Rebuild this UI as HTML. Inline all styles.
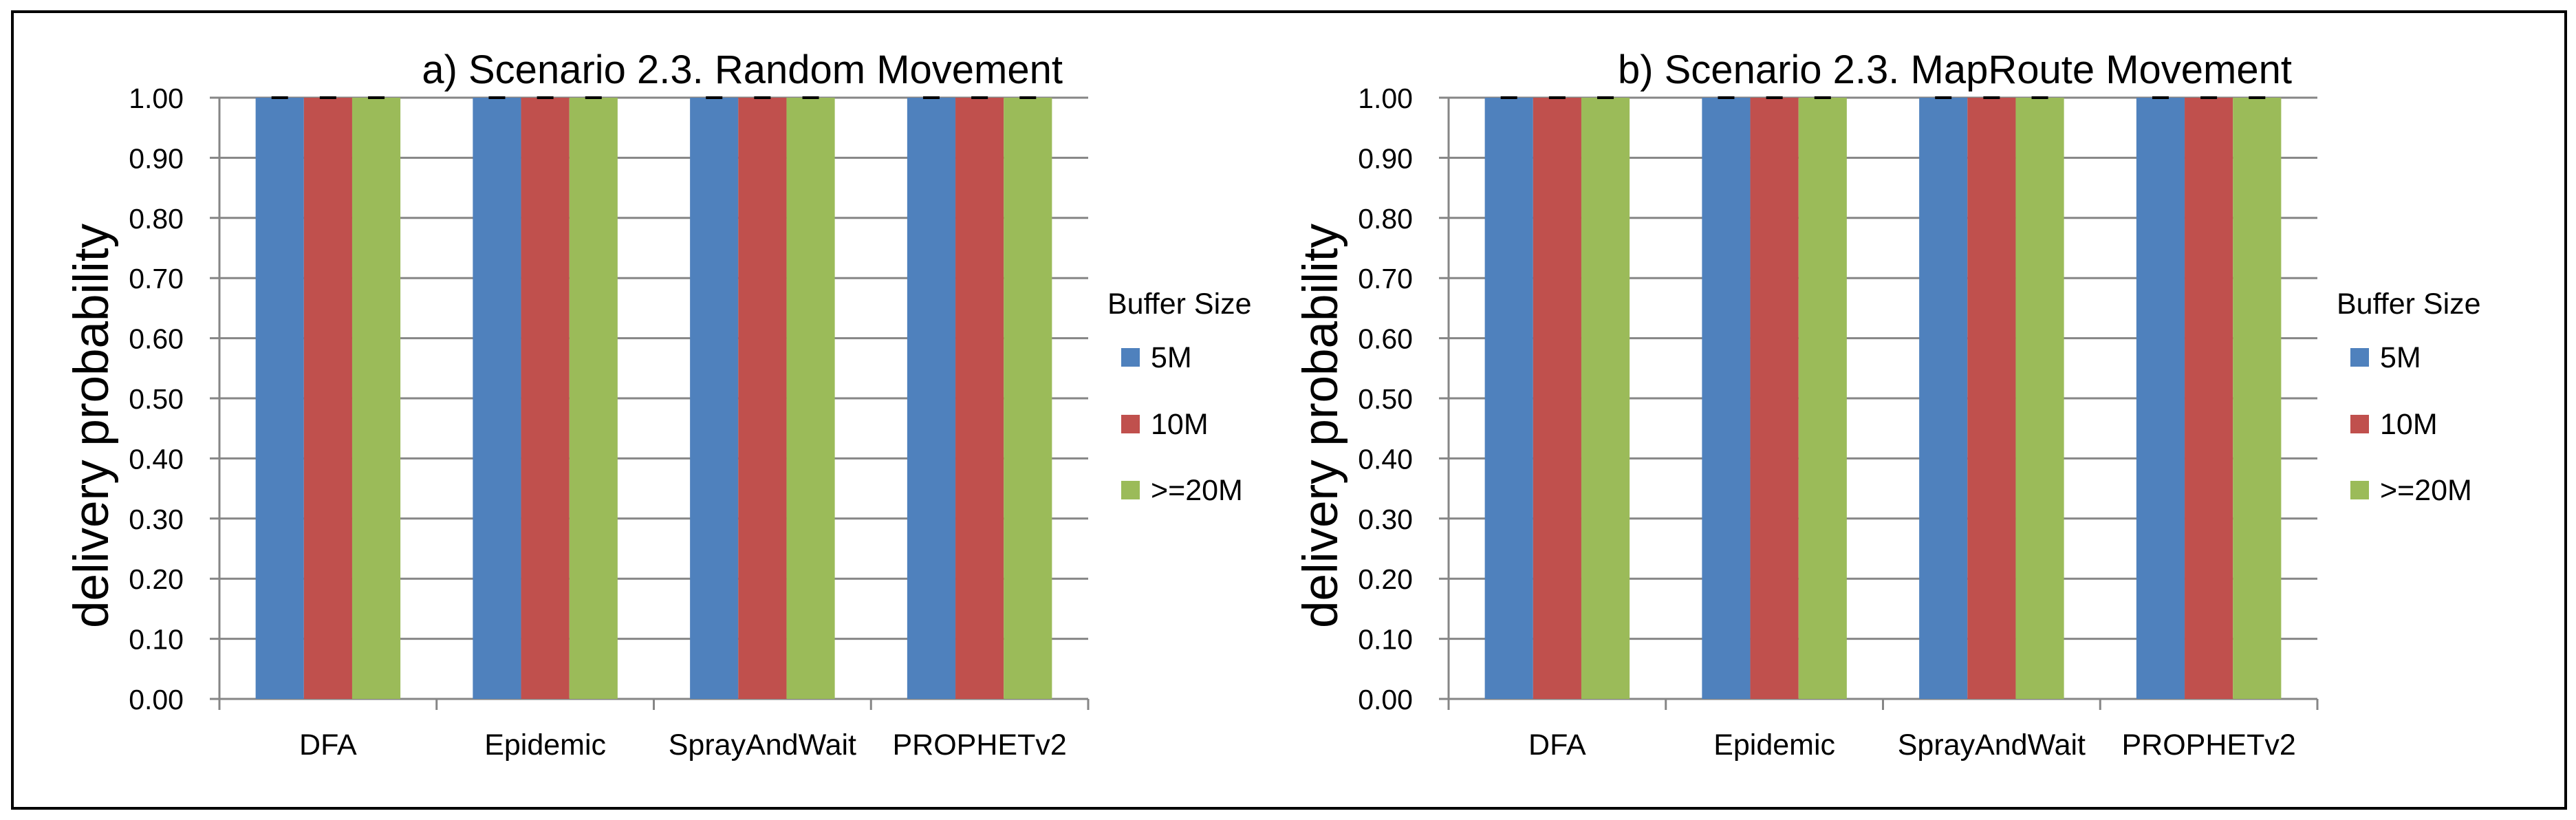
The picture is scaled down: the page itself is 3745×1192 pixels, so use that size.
<!DOCTYPE html>
<html><head><meta charset="utf-8"><style>
html,body{margin:0;padding:0;background:#fff}
svg{display:block}
text{font-family:"Liberation Sans Narrow","Liberation Sans",sans-serif;fill:#000}
</style></head><body>
<svg id="c" width="3745" height="1192" xmlns="http://www.w3.org/2000/svg">
<rect x="18" y="17" width="3712" height="1158" fill="none" stroke="#000" stroke-width="4"/>
</svg>
<script>
const categories = ["DFA","Epidemic","SprayAndWait","PROPHETv2"];
const seriesNames = ["5M","10M",">=20M"];
const valuesA5 = [1.00,1.00,1.00,1.00];
const valuesA10 = [1.00,1.00,1.00,1.00];
const valuesA20 = [1.00,1.00,1.00,1.00];
const valuesB5 = [1.00,1.00,1.00,1.00];
const valuesB10 = [1.00,1.00,1.00,1.00];
const valuesB20 = [1.00,1.00,1.00,1.00];
const yTicks = [0,0.1,0.2,0.3,0.4,0.5,0.6,0.7,0.8,0.9,1.0];
const titles = ["a) Scenario 2.3. Random Movement","b) Scenario 2.3. MapRoute Movement"];

const colors = ["#4f81bd","#c0504d","#9bbb59"];
const NS = "http://www.w3.org/2000/svg";
const svg = document.getElementById('c');
function el(tag, attrs, parent){
  const e = document.createElementNS(NS, tag);
  for (const k in attrs) e.setAttribute(k, attrs[k]);
  (parent||svg).appendChild(e);
  return e;
}
function drawChart(idx, ox, series){
  const g = el('g', {});
  
  
  const x0 = ox, x1 = ox + 1263, yTop = 142, yBot = 1016;
  const ys = v => yBot - (v/1.0)*(yBot - yTop);
  const catW = (x1 - x0)/categories.length;
  const barW = catW/4.5;
  yTicks.forEach(t => {
    const y = ys(t);
    const ln = el('line', {x1:x0-14, x2:x1, y1:y, y2:y, stroke:'#868686', 'stroke-width':3}, g);
    
    
    const tx = el('text', {x:x0-52, y:y+15, 'font-size':41, 'text-anchor':'end'}, g);
    tx.textContent = t.toFixed(2);
    
    
  });
  const ax = el('line', {x1:x0, x2:x0, y1:yTop, y2:yBot+16, stroke:'#868686', 'stroke-width':3}, g);
  
  
  for (let i=0;i<=categories.length;i++){
    const tk = el('line', {x1:x0+i*catW, x2:x0+i*catW, y1:yBot, y2:yBot+16, stroke:'#868686', 'stroke-width':3}, g);
    
    
  }
  categories.forEach((c,i) => {
    const cx = x0 + (i+0.5)*catW;
    series.forEach((vals, s) => {
      const bx = x0 + i*catW + 0.75*barW + s*barW;
      const y = ys(vals[i]);
      const r = el('rect', {x:bx, y:y, width:barW, height:yBot-y, fill:colors[s]}, g);
      
      
      const eb = el('line', {x1:bx+barW/2-12, x2:bx+barW/2+12, y1:y, y2:y, stroke:'#000', 'stroke-width':4}, g);
      
      
    });
    const lt = el('text', {x:cx, y:1097, 'font-size':43, 'text-anchor':'middle'}, g);
    lt.textContent = c;
    
    
  });
  const tt = el('text', {x:x1-37, y:121, 'font-size':58, 'text-anchor':'end'}, g);
  tt.textContent = titles[idx];
  
  
  const yt = el('text', {x:0, y:0, 'font-size':71, 'text-anchor':'middle', transform:`translate(${x0-162},${(yTop+yBot)/2+40}) rotate(-90)`, style:'font-family:"Liberation Sans",sans-serif'}, g);
  yt.textContent = 'delivery probability';
  
  
  const lx = x0 + 1291;
  const lg = el('text', {x:lx, y:456, 'font-size':43}, g);
  lg.textContent = 'Buffer Size';
  
  
  const ly = [519, 616, 712];
  seriesNames.forEach((n, s) => {
    const sq = el('rect', {x:lx+20, y:ly[s]-13, width:27, height:27, fill:colors[s]}, g);
    
    
    const t = el('text', {x:lx+63, y:ly[s]+15, 'font-size':43}, g);
    t.textContent = n;
    
    
  });
}
drawChart(0, 319, [valuesA5, valuesA10, valuesA20]);
drawChart(1, 2106, [valuesB5, valuesB10, valuesB20]);
</script>
</body></html>
